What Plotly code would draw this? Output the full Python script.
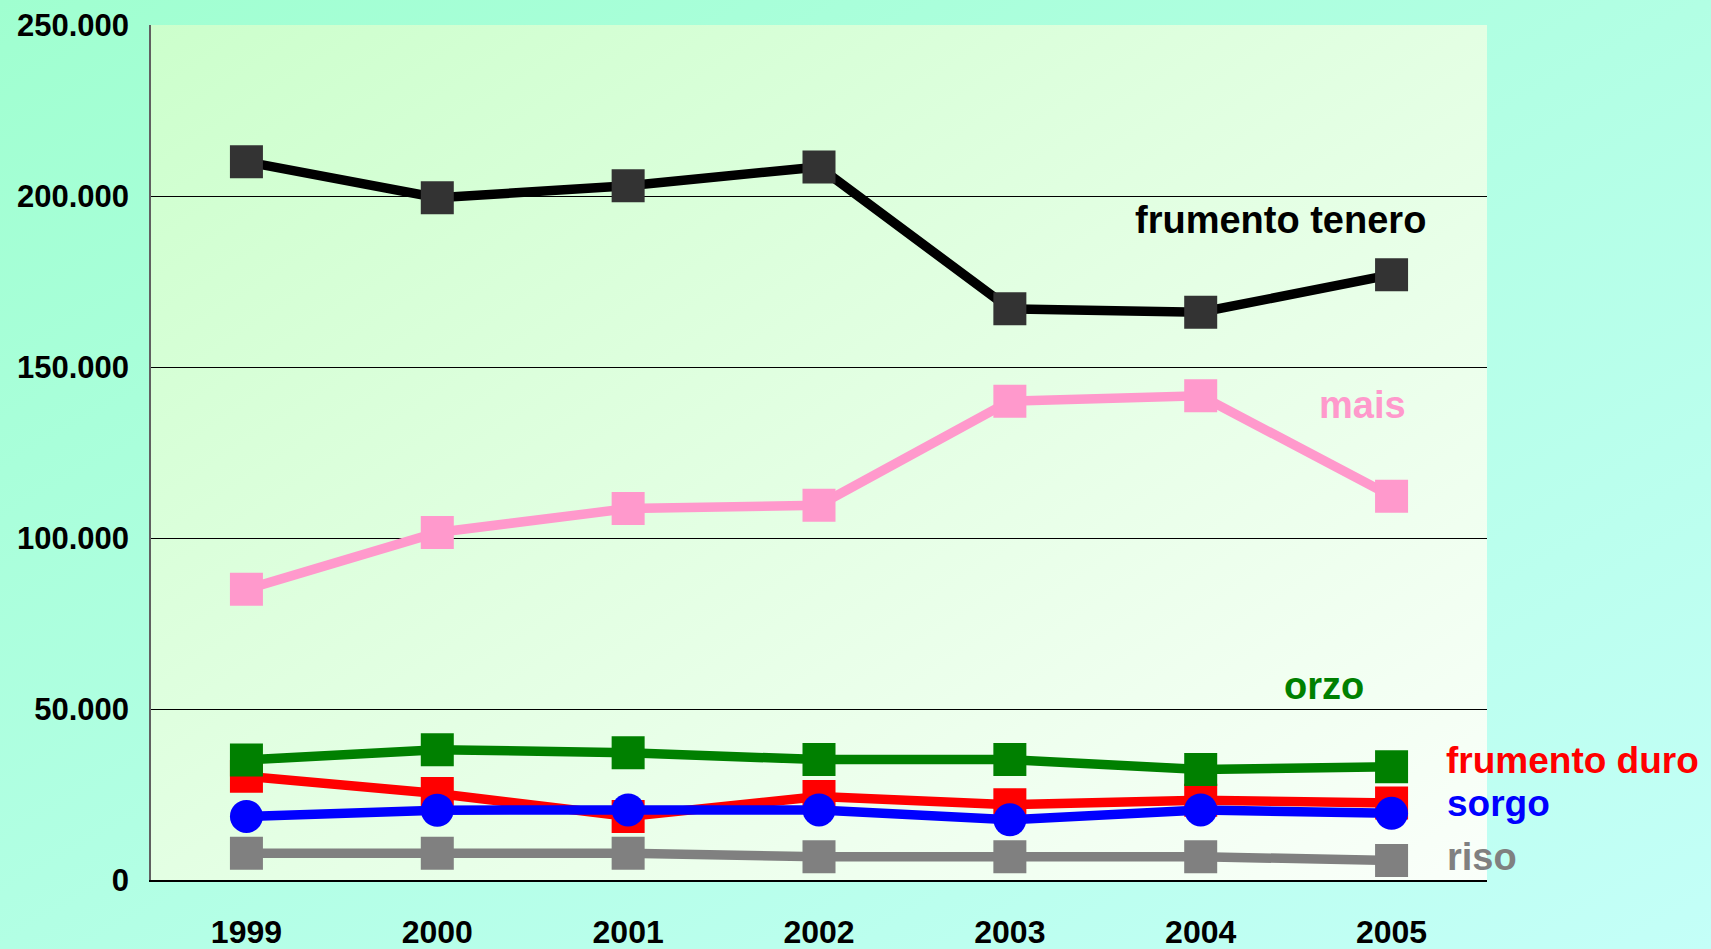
import plotly.graph_objects as go
import urllib.parse

years = ["1999", "2000", "2001", "2002", "2003", "2004", "2005"]
frumento_tenero = [210000, 199500, 203000, 208500, 167000, 166000, 177000]
mais = [85000, 101600, 108600, 109600, 140000, 141600, 112200]
orzo = [35100, 38100, 37200, 35200, 35200, 32300, 33100]
frumento_duro = [30300, 25300, 18600, 24400, 22000, 23300, 22500]
sorgo = [18600, 20400, 20500, 20500, 17600, 20500, 19500]
riso = [7800, 7800, 7800, 6800, 6800, 6800, 5700]

y_tickvals = [0, 50000, 100000, 150000, 200000, 250000]
y_ticktext = ["0", "50.000", "100.000", "150.000", "200.000", "250.000"]

W, H = 1711, 949
L, R, T, B = 151, 224, 25, 69

FONT = "Liberation Sans, Arial, sans-serif"


def svg_uri(c1, c2, w, h):
    svg = (f'<svg xmlns="http://www.w3.org/2000/svg" width="{w}" height="{h}" preserveAspectRatio="none">'
           f'<defs><linearGradient id="g" x1="0" y1="0" x2="1" y2="1">'
           f'<stop offset="0" stop-color="{c1}"/><stop offset="1" stop-color="{c2}"/>'
           f'</linearGradient></defs><rect width="{w}" height="{h}" fill="url(#g)"/></svg>')
    return "data:image/svg+xml;charset=utf-8," + urllib.parse.quote(svg)


fig = go.Figure()

series = [
    ("riso", riso, "#808080", "#808080", "square"),
    ("frumento duro", frumento_duro, "#FF0000", "#FF0000", "square"),
    ("orzo", orzo, "#008000", "#008000", "square"),
    ("sorgo", sorgo, "#0000FF", "#0000FF", "circle"),
    ("mais", mais, "#FF99CC", "#FF99CC", "square"),
    ("frumento tenero", frumento_tenero, "#000000", "#333333", "square"),
]
for name, vals, lc, mc, sym in series:
    fig.add_trace(go.Scatter(
        x=years, y=vals, name=name, mode="lines+markers",
        line=dict(color=lc, width=9.5),
        marker=dict(symbol=sym, size=33, color=mc, line=dict(width=0)),
        cliponaxis=False, showlegend=False,
    ))

labels = [
    ("frumento tenero", 4.645, 193000, "#000000", 38),
    ("mais", 5.609, 139000, "#FF99CC", 38),
    ("orzo", 5.426, 56700, "#008000", 38),
    ("frumento duro", 6.275, 34800, "#FF0000", 37),
    ("sorgo", 6.28, 22500, "#0000FF", 37),
    ("riso", 6.28, 6700, "#808080", 38),
]
annotations = [
    dict(text=t, x=x, y=y, xref="x", yref="y", xanchor="left", yanchor="middle",
         showarrow=False, font=dict(family=FONT, size=s, color=c, weight="bold"))
    for t, x, y, c, s in labels
]

fig.update_layout(
    template="none",
    width=W, height=H,
    margin=dict(l=L, r=R, t=T, b=B, pad=0, autoexpand=False),
    paper_bgcolor="rgba(0,0,0,0)",
    plot_bgcolor="rgba(0,0,0,0)",
    font=dict(family=FONT, color="#000000", weight="bold"),
    annotations=annotations,
    images=[
        dict(source=svg_uri("#A0FFD0", "#C4FFF8", W, H), xref="paper", yref="paper",
             x=-L / (W - L - R), y=1 + T / (H - T - B),
             sizex=W / (W - L - R), sizey=H / (H - T - B),
             sizing="stretch", layer="below", xanchor="left", yanchor="top"),
        dict(source=svg_uri("#CCFFCC", "#FAFFFA", W - L - R, H - T - B), xref="paper", yref="paper",
             x=0, y=1, sizex=1, sizey=1, sizing="stretch", layer="below",
             xanchor="left", yanchor="top"),
    ],
    xaxis=dict(
        type="category", range=[-0.5, 6.5], showgrid=False, automargin=False,
        showline=True, linecolor="#000000", linewidth=1.5, zeroline=False,
        ticks="", ticklabelstandoff=23,
        tickfont=dict(family=FONT, size=32, color="#000000", weight="bold"),
    ),
    yaxis=dict(
        range=[0, 250000], tickvals=y_tickvals, ticktext=y_ticktext, automargin=False,
        showgrid=True, gridcolor="#000000", gridwidth=1,
        showline=True, linecolor="#606060", linewidth=1.5,
        zeroline=False, ticks="", ticklabelstandoff=14,
        tickfont=dict(family=FONT, size=31, color="#000000", weight="bold"),
    ),
)

fig.write_html("out.html", config={"displayModeBar": False},
               post_script="document.body.style.margin='0';document.body.style.overflow='hidden';")
